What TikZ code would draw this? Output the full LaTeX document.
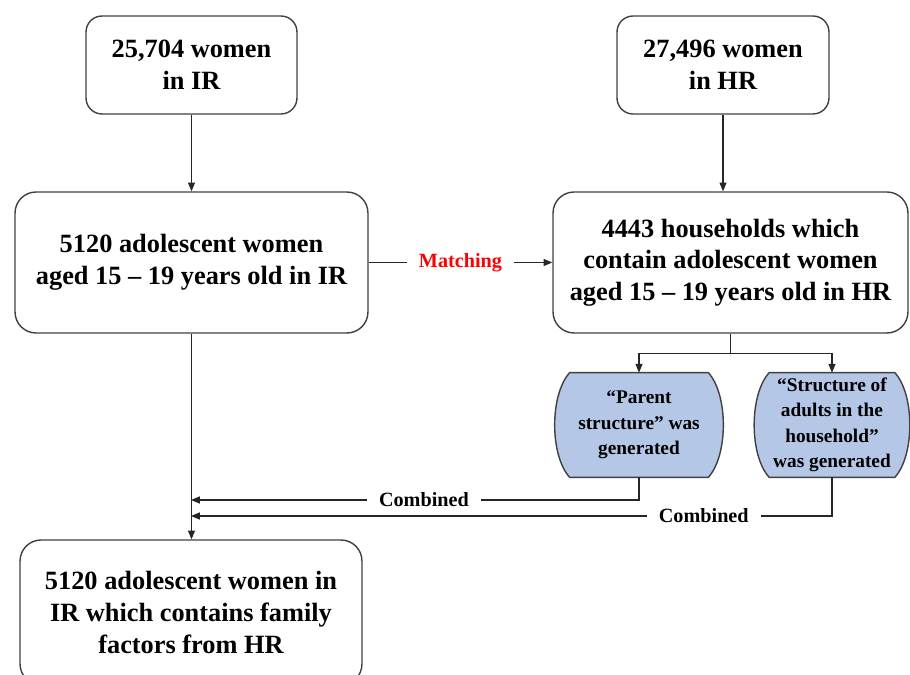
\documentclass[tikz,border=0pt]{standalone}
\usepackage{fontspec}
\setmainfont{Liberation Serif}
\usetikzlibrary{arrows.meta,backgrounds}
\definecolor{gblue}{RGB}{180,199,231}
\tikzset{
  wbox/.style={draw=black!75, line width=0.8pt, rounded corners=0.32cm, align=center,
    inner sep=0pt, font=\fontsize{15}{18}\selectfont\bfseries},
  bigbox/.style={wbox, rounded corners=0.42cm},
  gbox/.style={align=center, inner sep=0pt, font=\fontsize{11}{14.5}\selectfont\bfseries},
  gshape/.style={draw=black!75, line width=0.8pt, fill=gblue, line join=round},
  arr/.style={-{Triangle[length=5pt,width=4pt]}, line width=0.6pt, draw=black!85},
  lab/.style={fill=white, inner xsep=7pt, inner ysep=1pt, font=\fontsize{11.5}{13}\selectfont\bfseries}
}
\begin{document}
\begin{tikzpicture}[x=0.02cm, y=-0.02cm]
\useasboundingbox (0,0) rectangle (910,675);
\clip (0,0) rectangle (910,675);
% top row
\node[wbox, minimum width=4.22cm, minimum height=1.96cm] (w1) at (191.5,65) {25,704 women\\in IR};
\node[wbox, minimum width=4.24cm, minimum height=1.96cm] (w2) at (723,65) {27,496 women\\in HR};
% adolescent women / households
\node[bigbox, minimum width=7.06cm, minimum height=2.82cm] (a3) at (191.5,262.5)
  {5120 adolescent women\\aged 15 -- 19 years old in IR};
\node[bigbox, minimum width=7.1cm, minimum height=2.82cm] (h4) at (730.5,262.5)
  {4443 households which\\contain adolescent women\\aged 15 -- 19 years old in HR};
% generated structures
\node[gbox, minimum width=2.76cm, minimum height=2.08cm] (p5) at (639,425)
  {``Parent\\structure'' was\\generated};
\node[gbox, minimum width=2.5cm, minimum height=2.08cm] (p6) at (832,425)
  {``Structure of\\adults in the\\household''\\was generated};
\begin{scope}[on background layer]
  \foreach \g in {p5,p6}
    \draw[gshape] (\g.north west) -- (\g.north east)
      .. controls +(20,22) and +(20,-22) .. (\g.south east) -- (\g.south west)
      .. controls +(-20,-22) and +(-20,22) .. cycle;
\end{scope}
% result
\node[bigbox, minimum width=6.84cm, minimum height=2.9cm] (f7) at (191,612.5)
  {5120 adolescent women in\\IR which contains family\\factors from HR};
% connectors
\draw[arr] (w1) -- (a3);
\draw[arr] (w2.south) -- (w2.south |- h4.north);
\draw[arr] (a3.east) -- node[lab, text=red]{Matching} (h4.west);
\draw[line width=0.6pt, draw=black!85] (h4.south) -- ++(0,20) coordinate (sp);
\draw[arr] (sp) -| (p5.north);
\draw[arr] (sp) -| (p6.north);
\coordinate (c1) at (191,500);
\coordinate (c2) at (191,516);
\draw[arr] (p5.south) |- node[lab, pos=0.74]{Combined} (c1);
\draw[arr] (p6.south) |- node[lab, pos=0.6]{Combined} (c2);
\draw[arr] (a3.south) -- (a3.south |- f7.north);
\end{tikzpicture}
\end{document}
